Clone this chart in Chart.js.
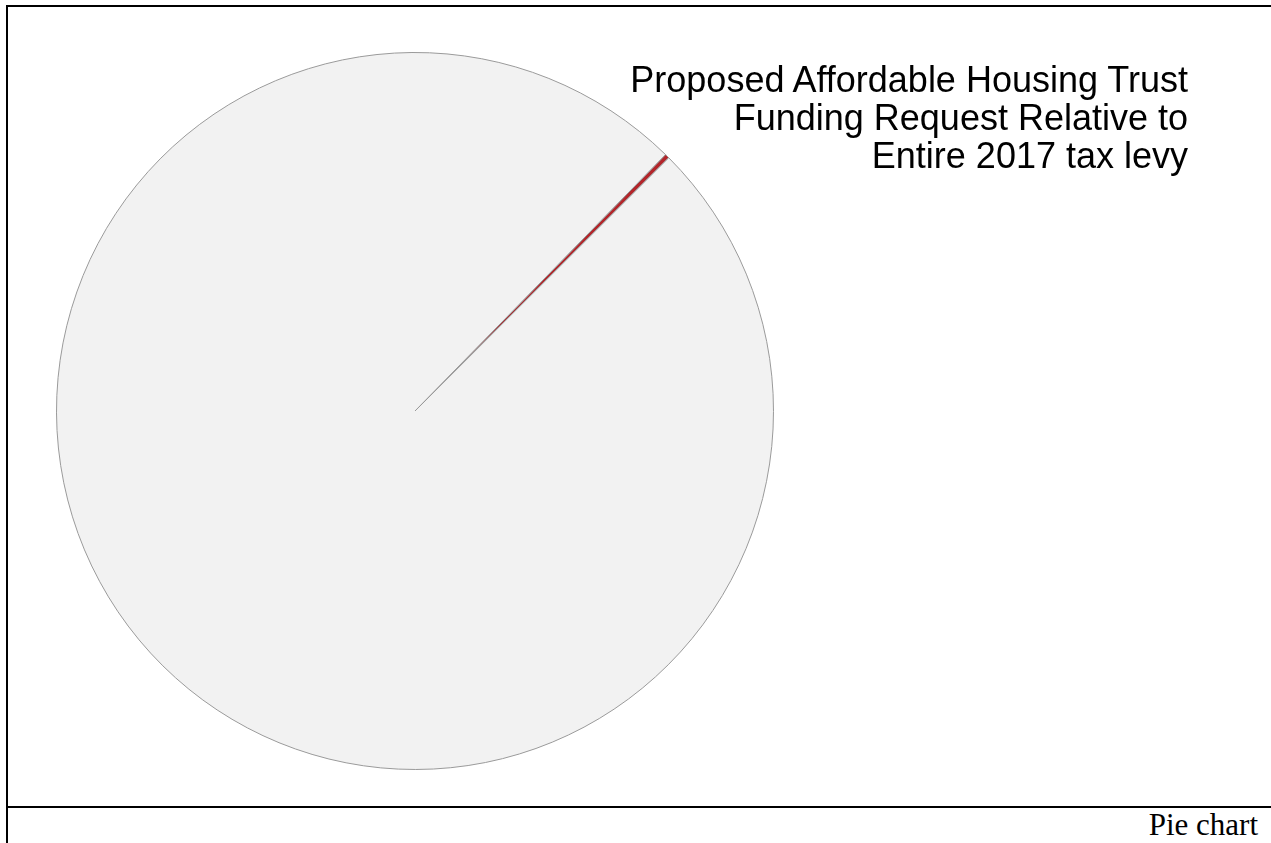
<!DOCTYPE html>
<html>
<head>
<meta charset="utf-8">
<script src="https://cdn.jsdelivr.net/npm/chart.js@4"></script>
<style>
  html, body { margin: 0; padding: 0; background: #fff; width: 1271px; height: 843px; overflow: hidden; }
  #frame { position: absolute; left: 6px; top: 5px; width: 1300px; height: 900px;
           border-left: 2px solid #000; border-top: 2px solid #000; }
  #divider { position: absolute; left: 6px; top: 806px; width: 1300px; height: 2px; background: #000; }
  #caption { position: absolute; right: 13px; top: 808px; font-family: "Liberation Serif", "Times New Roman", serif;
             font-size: 31px; line-height: 34px; color: #000; }
  #pieBox { position: absolute; left: 56px; top: 52px; width: 718px; height: 718px; }
  #title { position: absolute; right: 83px; top: 61px; text-align: right;
           font-family: "Liberation Sans", Arial, Helvetica, sans-serif; font-size: 36px; line-height: 38px; color: #000; }
</style>
</head>
<body>
<div id="frame"></div>
<div id="divider"></div>
<div id="caption">Pie chart</div>
<div id="pieBox"><canvas id="c"></canvas></div>
<div id="title">Proposed Affordable Housing Trust<br>Funding Request Relative to<br>Entire 2017 tax levy</div>
<script>
const categories = ["Affordable Housing Trust request", "Remainder of 2017 tax levy"];
const values = [0.2, 99.8];
const colors = ["#b3262b", "#f2f2f2"];

const smallFrac = values[0] / values.reduce((a, b) => a + b, 0);
const startDeg = 44.7 - smallFrac * 360 / 2;

new Chart(document.getElementById('c'), {
  type: 'pie',
  data: {
    labels: categories,
    datasets: [{
      data: values,
      backgroundColor: colors,
      borderColor: '#9a9a9a',
      borderWidth: 1
    }]
  },
  options: {
    responsive: true,
    maintainAspectRatio: false,
    animation: false,
    rotation: startDeg,
    layout: { padding: 0 },
    plugins: {
      legend: { display: false },
      tooltip: { enabled: false },
      title: { display: false }
    }
  }
});
</script>
</body>
</html>
